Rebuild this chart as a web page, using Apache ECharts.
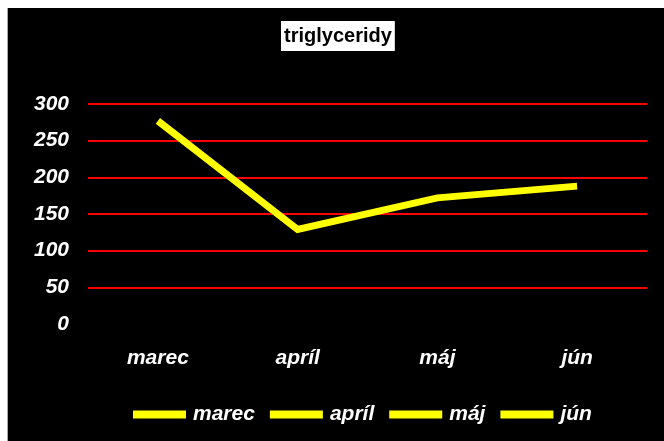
<!DOCTYPE html>
<html>
<head>
<meta charset="utf-8">
<script src="https://cdn.jsdelivr.net/npm/echarts@6/dist/echarts.min.js"></script>
<style>
  html, body { margin: 0; padding: 0; background: #fff; }
  #wrap { position: relative; width: 664px; height: 441px; }
  #chart { position: absolute; left: 7px; top: 8px; width: 657px; height: 433px;
           border-left: 1px solid #aaa; box-sizing: border-box; background: #000; }
</style>
</head>
<body>
<div id="wrap"><div id="chart"></div></div>
<script>
// data
const months = ['marec', 'apríl', 'máj', 'jún']
const triglyceridy = [277, 129, 172, 188]
const yTicks = [0, 50, 100, 150, 200, 250, 300]

const labelFont = {
  color: '#fff',
  fontFamily: 'Liberation Sans, Arial, sans-serif',
  fontWeight: 'bold',
  fontStyle: 'italic',
  fontSize: 21
}

const chart = echarts.init(document.getElementById('chart'))

// legend shows the months (as Excel does with varied points)
const legendSeries = months.map(name => ({
  name: name,
  type: 'line',
  data: [],
  itemStyle: { color: '#ffff00' },
  lineStyle: { color: '#ffff00' }
}))

chart.setOption({
  backgroundColor: '#000',
  animation: false,
  title: {
    text: 'triglyceridy',
    left: 273,
    top: 13,
    padding: [3, 3, 3, 3],
    backgroundColor: '#fff',
    textStyle: {
      color: '#000',
      fontFamily: 'Liberation Sans, Arial, sans-serif',
      fontWeight: 'bold',
      fontSize: 20,
      lineHeight: 24
    }
  },
  legend: {
    data: months,
    left: 125,
    top: 396,
    padding: 0,
    icon: 'rect',
    itemWidth: 53,
    itemHeight: 8,
    itemGap: 15,
    textStyle: Object.assign({ padding: [0, 0, 0, 2] }, labelFont)
  },
  grid: {
    left: 80,
    right: 17,
    top: 96,
    bottom: 117
  },
  xAxis: {
    type: 'category',
    data: months,
    boundaryGap: true,
    axisLine: { show: false },
    axisTick: { show: false },
    axisLabel: Object.assign({ margin: 24 }, labelFont),
    splitLine: { show: false }
  },
  yAxis: {
    type: 'value',
    min: yTicks[0],
    max: yTicks[yTicks.length - 1],
    interval: 50,
    axisLine: { show: false },
    axisTick: { show: false },
    axisLabel: Object.assign({ margin: 19 }, labelFont),
    splitLine: {
      show: true,
      showMinLine: false,
      lineStyle: { color: '#ff0000', width: 2 }
    }
  },
  series: [{
    name: 'triglyceridy',
    type: 'line',
    data: triglyceridy,
    symbol: 'none',
    lineStyle: { color: '#ffff00', width: 7, cap: 'butt', join: 'miter' },
    itemStyle: { color: '#ffff00' }
  }].concat(legendSeries)
})
</script>
</body>
</html>
